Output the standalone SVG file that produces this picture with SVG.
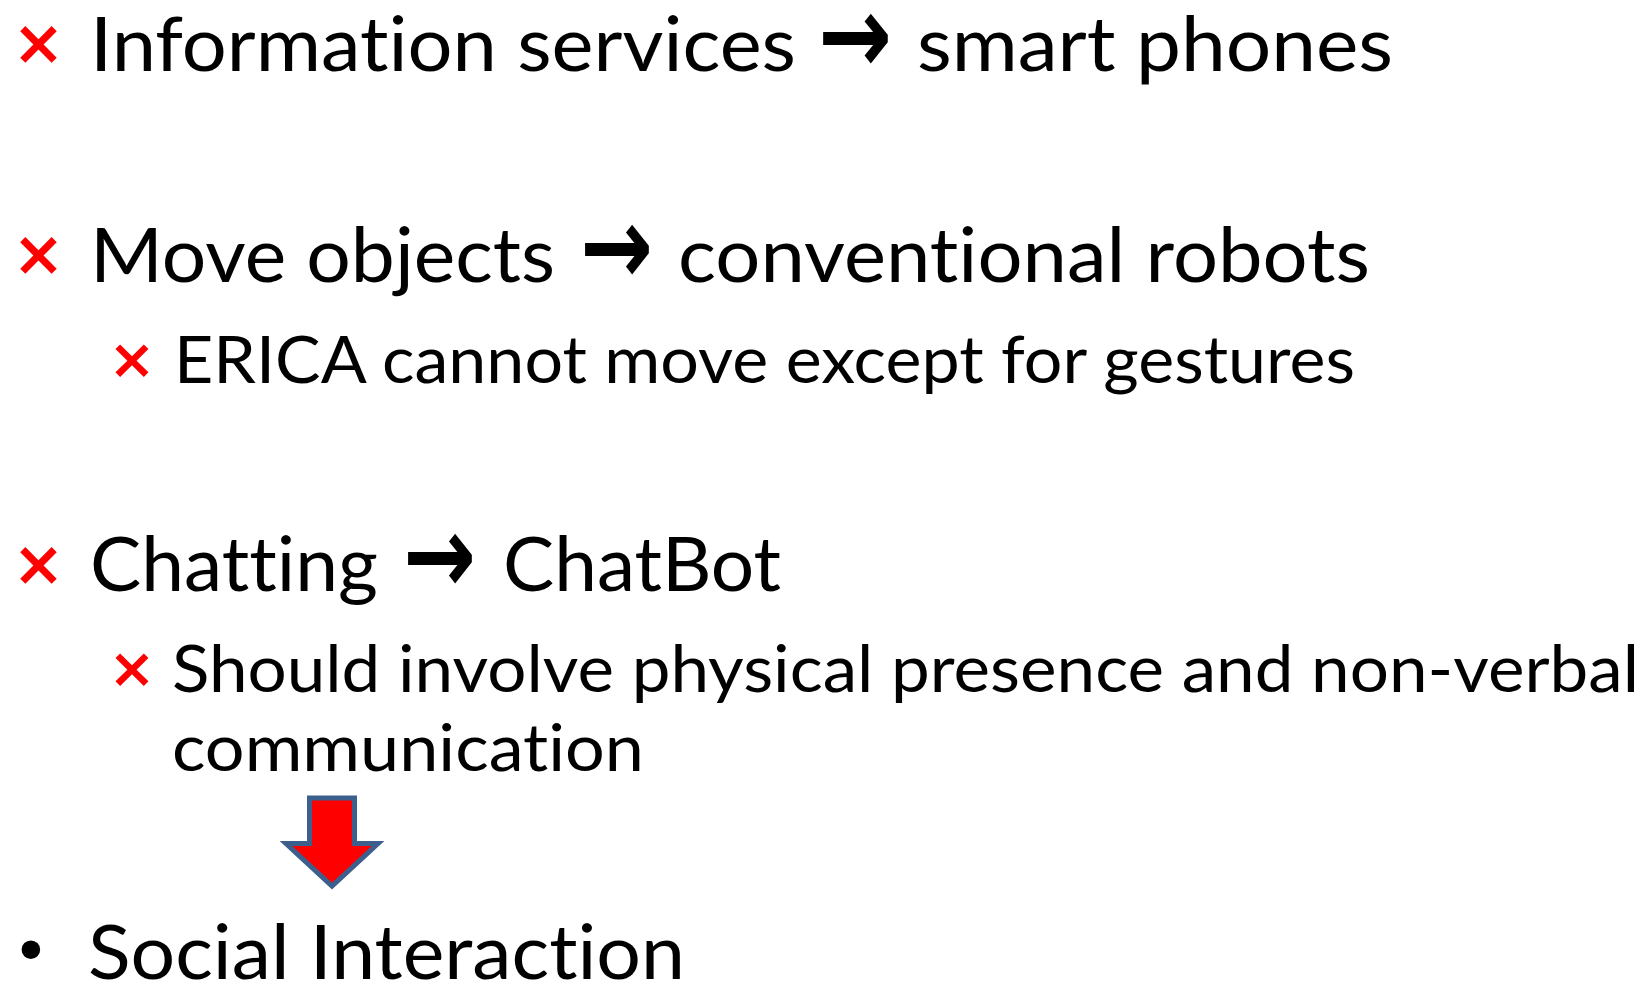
<svg xmlns="http://www.w3.org/2000/svg" width="1645" height="984" viewBox="0 0 1645 984">
<style>
.t{font-family:Lato,"Carlito","Open Sans",sans-serif;fill:#000;font-variant-ligatures:none;font-feature-settings:"liga" 0,"clig" 0}
.m{font-size:76px}
.s{font-size:66.5px}
.x{font-family:"DejaVu Sans",sans-serif;font-weight:700;fill:#FF0000}
.xm{font-size:62px}
.xs{font-size:56px}
.ar{font-family:"DejaVu Sans",sans-serif;font-weight:700;font-size:110px;fill:#000}
.bul{font-family:"DejaVu Sans",sans-serif;font-size:64px;fill:#000}
</style>
<rect width="1645" height="984" fill="#fff"/>
<g id="item1">
<text class="x xm" x="12.5" y="64">×</text>
<text class="t m" x="90" y="71" textLength="706" lengthAdjust="spacingAndGlyphs">Information services</text>
<text class="ar" x="818" y="73" textLength="74" lengthAdjust="spacingAndGlyphs">→</text>
<text class="t m" x="917" y="71" textLength="476" lengthAdjust="spacingAndGlyphs">smart phones</text>
</g>
<g id="item2">
<text class="x xm" x="12.5" y="275">×</text>
<text class="t m" x="90" y="282" textLength="465" lengthAdjust="spacingAndGlyphs">Move objects</text>
<text class="ar" x="580" y="284" textLength="73" lengthAdjust="spacingAndGlyphs">→</text>
<text class="t m" x="678" y="282" textLength="692" lengthAdjust="spacingAndGlyphs">conventional robots</text>
</g>
<g id="item2a">
<text class="x xs" x="108.5" y="378">×</text>
<text class="t s" x="174" y="383" textLength="1181" lengthAdjust="spacingAndGlyphs">ERICA cannot move except for gestures</text>
</g>
<g id="item3">
<text class="x xm" x="12.5" y="585">×</text>
<text class="t m" x="90" y="591" textLength="288" lengthAdjust="spacingAndGlyphs">Chatting</text>
<text class="ar" x="403" y="593" textLength="73" lengthAdjust="spacingAndGlyphs">→</text>
<text class="t m" x="503" y="591" textLength="278" lengthAdjust="spacingAndGlyphs">ChatBot</text>
</g>
<g id="item3a">
<text class="x xs" x="108.5" y="687">×</text>
<text class="t s" x="172" y="692" textLength="1467" lengthAdjust="spacingAndGlyphs">Should involve physical presence and non-verbal</text>
<text class="t s" x="172" y="771" textLength="472" lengthAdjust="spacingAndGlyphs">communication</text>
</g>
<g id="connectors">
<path d="M309.5 798 H354.5 V843.5 H378 L332 886 L286 843.5 H309.5 Z" fill="#FF0000" stroke="#3D5F8D" stroke-width="5"/>
</g>
<g id="item4">
<text class="bul" x="12" y="974">•</text>
<text class="t m" x="88" y="979" textLength="597" lengthAdjust="spacingAndGlyphs">Social Interaction</text>
</g>
</svg>
